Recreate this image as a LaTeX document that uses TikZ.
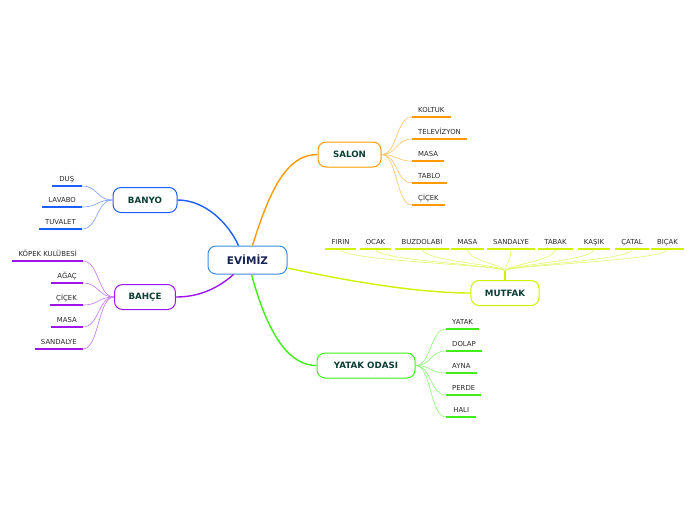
\documentclass[tikz,border=0pt]{standalone}
\usepackage{fontspec}
\setsansfont{DejaVu Sans}
\usetikzlibrary{calc}
\definecolor{rootblue}{RGB}{58,141,222}
\definecolor{rootink}{RGB}{22,36,84}
\definecolor{topicink}{RGB}{12,62,52}
\definecolor{leafink}{RGB}{40,40,40}
\definecolor{salonorange}{RGB}{255,153,0}
\definecolor{mutfaklime}{RGB}{208,242,0}
\definecolor{yatakgreen}{RGB}{64,238,24}
\definecolor{banyoblue}{RGB}{28,94,250}
\definecolor{bahcepurple}{RGB}{158,22,238}
\tikzset{
  root/.style={draw=rootblue,line width=1pt,fill=white,rounded corners=8pt,
               minimum width=79pt,minimum height=28pt,text=rootink,
               font=\sffamily\bfseries\fontsize{10.5}{12}\selectfont},
  topic/.style={draw=#1,line width=1pt,fill=white,rounded corners=8pt,
                minimum height=25pt,inner xsep=14pt,text=topicink,
                font=\sffamily\bfseries\fontsize{8.7}{10}\selectfont},
  branch/.style={draw=#1,line width=1.4pt},
  leaf/.style={inner xsep=6pt,inner ysep=3pt,text height=5pt,text depth=1.5pt,
               minimum width=30pt,text=leafink,
               font=\sffamily\fontsize{6.9}{8}\selectfont},
  rib/.style={draw=#1,line width=1.8pt},
  twig/.style={draw=#1!60,line width=0.6pt},
}
\begin{document}
\begin{tikzpicture}[x=1pt,y=-1pt]
  \path[use as bounding box] (0,0) rectangle (696,520);

  % central topic and main topics
  \node[root] (evimiz) at (247.5,260) {EVİMİZ};
  \node[topic=salonorange,minimum width=63pt] (salon) at (349.5,154.5) {SALON};
  \node[topic=mutfaklime,minimum width=68pt] (mutfak) at (505,293) {MUTFAK};
  \node[topic=yatakgreen,minimum width=98pt] (yatak) at (366,365.5) {YATAK ODASI};
  \node[topic=banyoblue,minimum width=64pt] (banyo) at (145,200) {BANYO};
  \node[topic=bahcepurple,minimum width=60pt] (bahce) at (145,297) {BAHÇE};

  % main branches
  \draw[branch=salonorange] ([xshift=5pt]evimiz.north)
    .. controls +(18,-58) and +(-30,0) .. (salon.west);
  \draw[branch=banyoblue] ([xshift=-9pt]evimiz.north)
    .. controls +(-10,-22) and +(28,0) .. (banyo.east);
  \draw[branch=bahcepurple] ([xshift=-14pt]evimiz.south)
    .. controls +(-18,16) and +(20,0) .. (bahce.east);
  \draw[branch=yatakgreen] ([xshift=4pt]evimiz.south)
    .. controls +(18,66) and +(-25,0) .. (yatak.west);
  \draw[branch=mutfaklime] ([yshift=-8pt]evimiz.east)
    .. controls +(55,12) and +(-55,0) .. (mutfak.west);

  % SALON
  \foreach \i/\yy/\txt in {1/117/KOLTUK,2/139/TELEVİZYON,3/161/MASA,4/183/TABLO,5/205/ÇİÇEK}{
    \node[leaf,anchor=south west] (salon-\i) at (412,\yy) {\txt};
    \draw[twig=salonorange] (salon.east) .. controls +(16,0) and +(-16,0) .. (salon-\i.south west);
    \draw[rib=salonorange] (salon-\i.south west) -- (salon-\i.south east);
  }

  % YATAK ODASI
  \foreach \i/\yy/\txt in {1/329/YATAK,2/351/DOLAP,3/373/AYNA,4/395/PERDE,5/417/HALI}{
    \node[leaf,anchor=south west] (yatak-\i) at (446,\yy) {\txt};
    \draw[twig=yatakgreen] (yatak.east) .. controls +(16,0) and +(-16,0) .. (yatak-\i.south west);
    \draw[rib=yatakgreen] (yatak-\i.south west) -- (yatak-\i.south east);
  }

  % BANYO
  \foreach \i/\yy/\txt in {1/186/DUŞ,2/207/LAVABO,3/229/TUVALET}{
    \node[leaf,anchor=south east] (banyo-\i) at (82,\yy) {\txt};
    \draw[twig=banyoblue] (banyo.west) .. controls +(-16,0) and +(16,0) .. (banyo-\i.south east);
    \draw[rib=banyoblue] (banyo-\i.south west) -- (banyo-\i.south east);
  }

  % BAHÇE
  \foreach \i/\yy/\txt in {1/261/KÖPEK KULÜBESİ,2/283/AĞAÇ,3/305/ÇİÇEK,4/327/MASA,5/349/SANDALYE}{
    \node[leaf,anchor=south east] (bahce-\i) at (83,\yy) {\txt};
    \draw[twig=bahcepurple] (bahce.west) .. controls +(-16,0) and +(16,0) .. (bahce-\i.south east);
    \draw[rib=bahcepurple] (bahce-\i.south west) -- (bahce-\i.south east);
  }

  % MUTFAK
  \coordinate (mfork) at (505,271);
  \draw[branch=mutfaklime] (mutfak.north) -- (mfork);
  \foreach \i/\xx/\txt in {1/340.5/FIRIN,2/375.5/OCAK,3/422/BUZDOLABI,4/467.5/MASA,5/511/SANDALYE,
                           6/555.5/TABAK,7/594/KAŞIK,8/632/ÇATAL,9/667.5/BIÇAK}{
    \node[leaf,anchor=south] (mutfak-\i) at (\xx,249) {\txt};
    \draw[twig=mutfaklime] (mfork) .. controls +(0,-6) and +(0,12) .. (mutfak-\i.south);
    \draw[rib=mutfaklime] (mutfak-\i.south west) -- (mutfak-\i.south east);
  }
\end{tikzpicture}
\end{document}
